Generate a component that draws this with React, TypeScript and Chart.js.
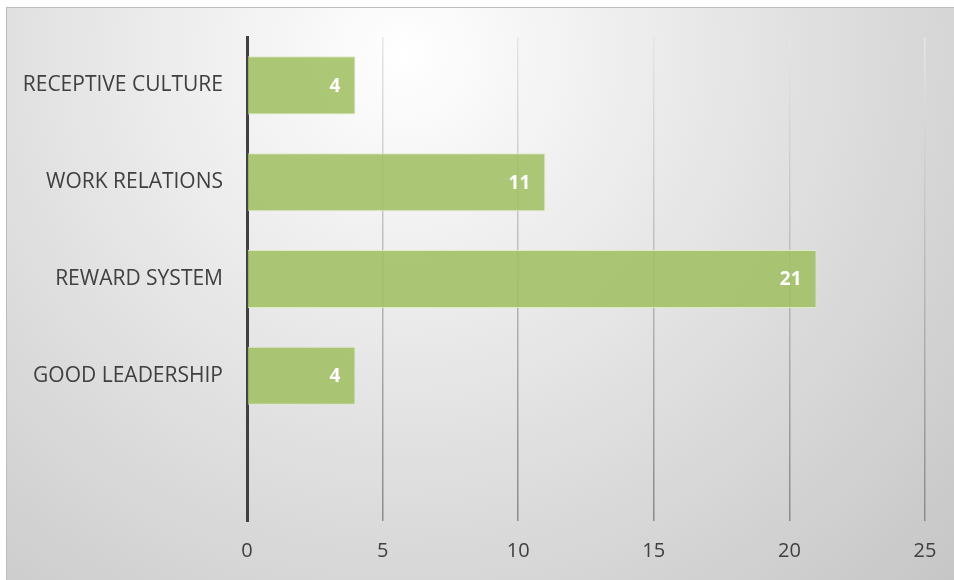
import React, { useEffect, useRef } from "react";
import { Chart, registerables } from "chart.js";

Chart.register(...registerables);

const categories = ["RECEPTIVE CULTURE", "WORK RELATIONS", "REWARD SYSTEM", "GOOD LEADERSHIP", ""];
const values: (number | null)[] = [4, 11, 21, 4, null];
const xTicks = [0, 5, 10, 15, 20, 25];

const FONT = "'Open Sans', Lato, sans-serif";

const valueLabels = {
  id: "valueLabels",
  afterDatasetsDraw(chart: any) {
    const ctx = chart.ctx;
    const meta = chart.getDatasetMeta(0);
    ctx.save();
    ctx.fillStyle = "#ffffff";
    ctx.font = `bold 19px ${FONT}`;
    ctx.textAlign = "right";
    ctx.textBaseline = "middle";
    meta.data.forEach((bar: any, i: number) => {
      const v = values[i];
      if (v == null) return;
      ctx.fillText(String(v), bar.x - 15, bar.y + 1);
    });
    ctx.restore();
  },
};

export default function App() {
  const ref = useRef<HTMLCanvasElement | null>(null);
  useEffect(() => {
    if (!ref.current) return;
    const chart = new Chart(ref.current, {
      type: "bar",
      data: {
        labels: categories,
        datasets: [
          {
            data: values as any,
            backgroundColor: "rgba(160, 192, 100, 0.88)",
            borderColor: "rgba(220, 234, 196, 0.95)",
            borderWidth: 1,
            barPercentage: 0.6,
            categoryPercentage: 1,
          },
        ],
      },
      options: {
        indexAxis: "y",
        animation: false,
        responsive: false,
        maintainAspectRatio: false,
        layout: { padding: { top: 29, right: 29, left: 0, bottom: 0 } },
        plugins: { legend: { display: false }, tooltip: { enabled: false } },
        scales: {
          x: {
            min: 0,
            max: 25,
            afterBuildTicks: (s: any) => {
              s.ticks = xTicks.map((v) => ({ value: v }));
            },
            afterFit: (s: any) => {
              s.height = 59;
              s.paddingLeft = 0;
              s.paddingRight = 0;
            },
            grid: {
              drawTicks: false,
              lineWidth: 1.5,
              color: (c: any) => {
                const chart = c.chart;
                const a = chart.chartArea;
                if (!a) return "#aaaaaa";
                const g = chart.ctx.createLinearGradient(0, a.top, 0, a.bottom);
                g.addColorStop(0, "#e6e6e6");
                g.addColorStop(1, "#8a8a8a");
                return g;
              },
            },
            border: { display: false },
            ticks: {
              padding: 18,
              color: "#404040",
              font: { family: FONT, size: 20 },
            },
          },
          y: {
            afterFit: (s: any) => {
              s.width = 240;
              s.paddingTop = 0;
              s.paddingBottom = 0;
            },
            grid: { display: false, drawTicks: false },
            border: { display: true, color: "#404040", width: 3 },
            ticks: {
              padding: 24,
              color: "#404040",
              font: { family: FONT, size: 21 },
            },
          },
        },
      },
      plugins: [valueLabels],
    });
    return () => chart.destroy();
  }, []);

  return (
    <div style={{ position: "fixed", left: 0, top: 0, width: 954, height: 580, background: "#ffffff", overflow: "hidden" }}>
      <div
        style={{
          position: "absolute",
          left: 6,
          top: 7,
          width: 948,
          height: 573,
          borderTop: "1px solid #bdbdbd",
          borderLeft: "1px solid #bdbdbd",
          boxSizing: "border-box",
          background:
            "radial-gradient(circle farthest-corner at 42% 8%, #ffffff 0%, #f2f2f2 22%, #dddddd 58%, #c6c6c6 100%)",
        }}
      >
        <canvas ref={ref} width={947} height={572} style={{ display: "block" }} />
      </div>
    </div>
  );
}
